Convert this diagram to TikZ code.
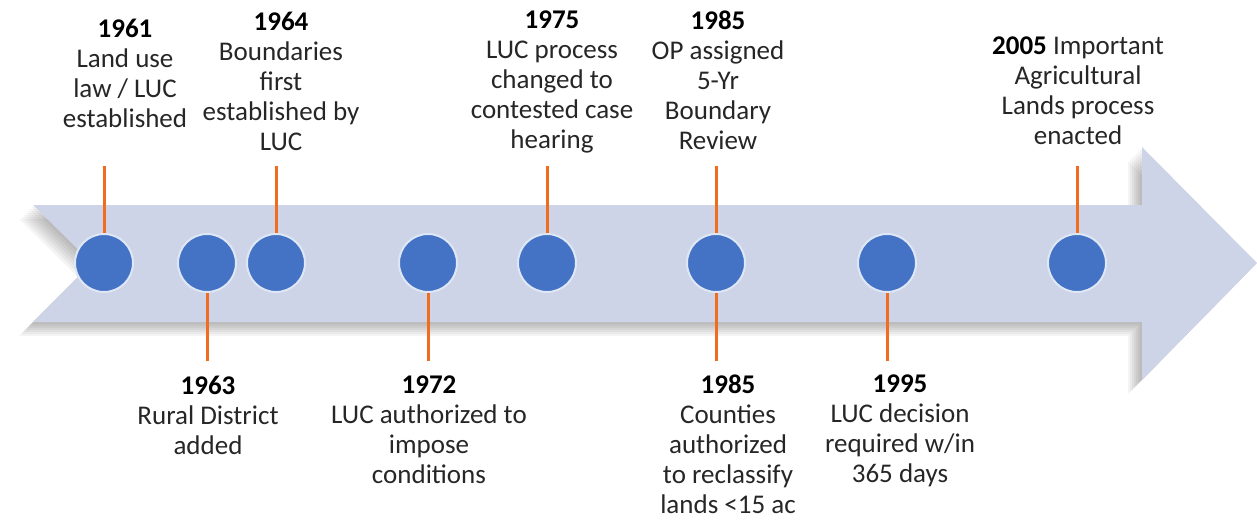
\documentclass[tikz,border=0pt]{standalone}
\usepackage{fontspec}
\setmainfont{Carlito}
\usetikzlibrary{positioning}
\definecolor{arrowfill}{RGB}{206,212,232}
\definecolor{dotblue}{RGB}{68,114,196}
\definecolor{dotrim}{RGB}{222,231,246}
\definecolor{stemorange}{RGB}{240,108,30}
\definecolor{textgray}{RGB}{38,38,38}

\begin{document}
\begin{tikzpicture}[x = 1pt, y = -1pt, font = \fontsize{27}{30}\selectfont,
    milestone/.style = {circle, fill = dotblue, draw = dotrim, line width = 2pt, minimum size = 58pt, inner sep = 0pt},
    stem/.style = {draw = stemorange, line width = 3pt},
    event/.style = {align = center, inner sep = 0pt, anchor = north, text = textgray}]
  \useasboundingbox (0,0) rectangle (1257,519);

  % big arrow with soft shadow
  \foreach \s in {2,4,...,14}
    \fill [black, opacity = 0.045, shift = {(-\s,\s)}] (33,205) -- (1142,205) -- (1142,147) -- (1257,263) -- (1142,380) -- (1142,322) -- (33,322) -- (92,263) -- cycle;
  \fill [arrowfill] (33,205) -- (1142,205) -- (1142,147) -- (1257,263) -- (1142,380) -- (1142,322) -- (33,322) -- (92,263) -- cycle;

  % milestones
  \node (d1961) [milestone] at (104,263) {};
  \node (d1963) [milestone] at (207,263) {};
  \node (d1964) [milestone] at (276,263) {};
  \node (d1972) [milestone] at (428,263) {};
  \node (d1975) [milestone] at (547,263) {};
  \node (d1985) [milestone] at (716,263) {};
  \node (d1995) [milestone] at (887,263) {};
  \node (d2005) [milestone] at (1077,263) {};

  % stem ends
  \coordinate (t1961) at (104,166);
  \coordinate (b1963) at (207,361);
  \coordinate (t1964) at (276,166);
  \coordinate (b1972) at (428,361);
  \coordinate (t1975) at (547,166);
  \coordinate (t1985) at (716,166);
  \coordinate (b1985) at (716,361);
  \coordinate (b1995) at (887,361);
  \coordinate (t2005) at (1077,166);

  \draw [stem] (t1961) -- (d1961);
  \draw [stem] (d1963) -- (b1963);
  \draw [stem] (t1964) -- (d1964);
  \draw [stem] (d1972) -- (b1972);
  \draw [stem] (t1975) -- (d1975);
  \draw [stem] (t1985) -- (d1985);
  \draw [stem] (d1985) -- (b1985);
  \draw [stem] (d1995) -- (b1995);
  \draw [stem] (t2005) -- (d2005);

  % labels above
  \node (l1961) [event] at (125,19) {\textbf{\color{black}1961}\\Land use\\law / LUC\\established};
  \node (l1964) [event] at (281,12) {\textbf{\color{black}1964}\\Boundaries\\first\\established by\\LUC};
  \node (l1975) [event] at (552,11) {\textbf{\color{black}1975}\\LUC process\\changed to\\contested case\\hearing};
  \node (l1985a) [event] at (718,11) {\textbf{\color{black}1985}\\OP assigned\\5-Yr\\Boundary\\Review};
  \node (l2005) [event] at (1078,37) {\textbf{\color{black}2005} Important\\Agricultural\\Lands process\\enacted};

  % labels below
  \node (l1963) [event] at (208,376) {\textbf{\color{black}1963}\\Rural District\\added};
  \node (l1972) [event] at (429,376) {\textbf{\color{black}1972}\\LUC authorized to\\impose\\conditions};
  \node (l1985b) [event] at (728,375) {\textbf{\color{black}1985}\\Counties\\authorized\\to reclassify\\lands <15 ac};
  \node (l1995) [event] at (900,375) {\textbf{\color{black}1995}\\LUC decision\\required w/in\\365 days};
\end{tikzpicture}
\end{document}
